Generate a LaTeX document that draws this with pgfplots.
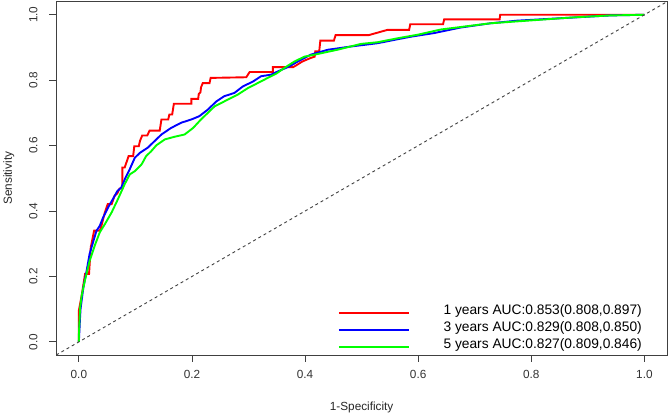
\documentclass[border=0pt]{standalone}
\usepackage{pgfplots}
\pgfplotsset{compat=1.18}
\usepackage{fontspec}
\setmainfont{Liberation Sans}
\definecolor{rred}{RGB}{255,0,0}
\definecolor{rblue}{RGB}{0,0,255}
\definecolor{rgreen}{RGB}{0,255,0}
\begin{document}
\begin{tikzpicture}
\begin{axis}[
  at={(0,0)}, anchor=south west,
  scale only axis, width=612bp, height=354bp,
  xmin=-0.04, xmax=1.04, ymin=-0.04, ymax=1.04,
  xtick={0,0.2,0.4,0.6,0.8,1}, ytick={0,0.2,0.4,0.6,0.8,1},
  xticklabels={0.0,0.2,0.4,0.6,0.8,1.0},
  yticklabels={0.0,0.2,0.4,0.6,0.8,1.0},
  tick align=outside, major tick length=7bp,
  xtick pos=bottom, ytick pos=left,
  axis line style={black!75, line width=0.8bp},
  every tick/.style={black!75, line width=0.8bp},
  tick label style={font=\fontsize{11.8bp}{14bp}\selectfont, text=black!80},
  /pgf/number format/assume math mode=true,
  xticklabel style={anchor=base, yshift=-17bp},
  yticklabel style={rotate=90, anchor=base},
  yticklabel shift=12bp,
  xlabel={1-Specificity},
  ylabel={Sensitivity},
  label style={font=\fontsize{11.8bp}{14bp}\selectfont, text=black!85},
  xlabel style={at={(axis description cs:0.5,-0.158)}, anchor=base},
  ylabel style={at={(axis description cs:-0.0727,0.5)}, anchor=base, rotate=0},
  legend style={draw=none, fill=none, at={(axis description cs:0.4607,0.1439)}, anchor=north west,
    font=\fontsize{13.8bp}{17bp}\selectfont, inner sep=0pt, row sep=0pt,
    nodes={inner sep=0pt, text height=10bp, text depth=7bp}},
  legend cell align=left,
  legend image code/.code={\draw[#1] (0bp,0bp) -- (70bp,0bp); \path[draw=none,fill=none] (0bp,0bp) rectangle (105bp,0.1bp);},
  clip=false,
]
\addplot[rred, line width=1.9bp] coordinates {
(0,0) (0,0.096) (0.005,0.142) (0.011,0.208) (0.018,0.208) (0.021,0.289)
(0.027,0.340) (0.037,0.340) (0.040,0.355) (0.046,0.396) (0.051,0.421)
(0.058,0.421) (0.063,0.446) (0.068,0.454) (0.072,0.469) (0.077,0.469)
(0.077,0.533) (0.081,0.533) (0.084,0.548) (0.088,0.568) (0.096,0.568)
(0.098,0.598) (0.106,0.598) (0.108,0.614) (0.112,0.631) (0.121,0.631)
(0.125,0.646) (0.143,0.646) (0.146,0.680) (0.158,0.680) (0.160,0.695)
(0.165,0.695) (0.168,0.728) (0.199,0.728) (0.199,0.743) (0.211,0.743)
(0.212,0.758) (0.215,0.763) (0.216,0.778) (0.219,0.791) (0.231,0.791)
(0.233,0.807) (0.296,0.809) (0.302,0.825) (0.343,0.825) (0.343,0.840)
(0.379,0.840) (0.383,0.844) (0.395,0.857) (0.410,0.868) (0.417,0.872)
(0.418,0.888) (0.425,0.888) (0.427,0.921) (0.451,0.921) (0.454,0.938)
(0.513,0.938) (0.546,0.954) (0.584,0.954) (0.586,0.971) (0.644,0.971)
(0.646,0.986) (0.744,0.986) (0.745,1.0) (1,1)
};
\addlegendentry{1 years AUC:0.853(0.808,0.897)}
\addplot[rblue, line width=1.9bp] coordinates {
(0,0) (0.002,0.071) (0.003,0.101) (0.008,0.167) (0.014,0.220) (0.019,0.269)
(0.025,0.304) (0.031,0.339) (0.037,0.355) (0.043,0.381) (0.052,0.412)
(0.061,0.439) (0.068,0.461) (0.075,0.472) (0.082,0.500) (0.090,0.528)
(0.099,0.563) (0.108,0.578) (0.122,0.594) (0.134,0.614) (0.146,0.634)
(0.163,0.654) (0.181,0.670) (0.199,0.680) (0.213,0.690) (0.228,0.710)
(0.243,0.735) (0.257,0.751) (0.275,0.761) (0.290,0.781) (0.308,0.796)
(0.322,0.812) (0.340,0.817) (0.352,0.827) (0.372,0.842) (0.387,0.857)
(0.410,0.878) (0.440,0.893) (0.481,0.903) (0.528,0.913) (0.563,0.925)
(0.587,0.933) (0.628,0.944) (0.675,0.961) (0.728,0.974) (0.775,0.982)
(0.878,0.992) (0.940,0.998) (1,1)
};
\addlegendentry{3 years AUC:0.829(0.808,0.850)}
\addplot[rgreen, line width=1.9bp] coordinates {
(0,0) (0,0.02) (0.002,0.101) (0.005,0.142) (0.011,0.190) (0.019,0.247)
(0.028,0.294) (0.037,0.335) (0.046,0.360) (0.058,0.396) (0.069,0.436)
(0.081,0.482) (0.090,0.512) (0.099,0.522) (0.111,0.543) (0.119,0.568)
(0.128,0.583) (0.137,0.601) (0.152,0.619) (0.169,0.627) (0.187,0.634)
(0.202,0.654) (0.216,0.680) (0.228,0.700) (0.240,0.720) (0.257,0.735)
(0.281,0.756) (0.299,0.776) (0.316,0.791) (0.334,0.807) (0.349,0.820)
(0.363,0.837) (0.381,0.857) (0.399,0.872) (0.422,0.880) (0.457,0.893)
(0.499,0.911) (0.528,0.916) (0.563,0.928) (0.599,0.939) (0.640,0.955)
(0.728,0.974) (0.874,0.992) (0.940,0.998) (1,1)
};
\addlegendentry{5 years AUC:0.827(0.809,0.846)}
\addplot[black!75, line width=0.9bp, dash pattern=on 3bp off 3bp, forget plot] coordinates {(-0.04,-0.04) (1.04,1.04)};
\end{axis}
\path (-55bp,-58.3bp) rectangle (614bp,355.7bp);
\end{tikzpicture}
\end{document}
